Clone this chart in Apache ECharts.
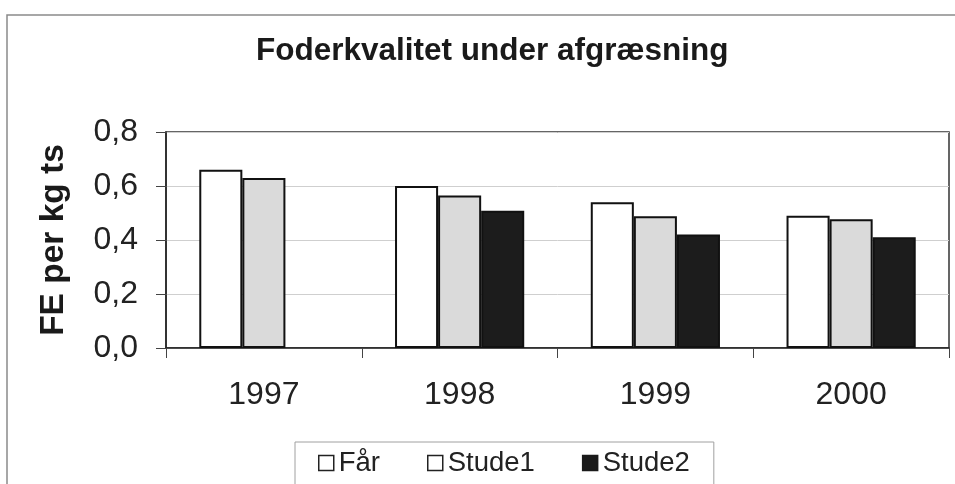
<!DOCTYPE html>
<html>
<head>
    <meta charset="utf-8">
    <title>Foderkvalitet</title>
    <script src="https://cdn.jsdelivr.net/npm/echarts@6/dist/echarts.min.js"></script>
    <style>
        html, body { margin: 0; padding: 0; background: #fff; }
    </style>
</head>
<body>
    <div id="main" style="width: 955px;height:484px;"></div>

    <script type="text/javascript">
        // data
        var years = ['1997', '1998', '1999', '2000'];
        var far = [0.66, 0.60, 0.54, 0.49];
        var stude1 = [0.63, 0.565, 0.488, 0.477];
        var stude2 = [null, 0.508, 0.42, 0.41];
        var yTicks = [0, 0.2, 0.4, 0.6, 0.8];

        var myChart = echarts.init(document.getElementById('main'));

        var font = 'Liberation Sans, Arial, sans-serif';
        var barBorder = { borderColor: '#111', borderWidth: 2 };

        option = {
            animation: false,
            textStyle: { fontFamily: font },
            title: {
                text: 'Foderkvalitet under afgræsning',
                left: 251,
                top: 30,
                textStyle: { fontSize: 31.5, fontWeight: 'bold', color: '#1a1a1a', fontFamily: font }
            },
            graphic: [{
                type: 'rect',
                shape: { x: 7, y: 15, width: 980, height: 520 },
                style: { fill: null, stroke: '#8a8a8a', lineWidth: 1.5 },
                silent: true
            }],
            legend: {
                left: 295,
                top: 442,
                padding: [7, 24, 40, 23],
                borderColor: '#a0a0a0',
                borderWidth: 1,
                icon: 'rect',
                itemWidth: 15,
                itemHeight: 15,
                itemGap: 47,
                textStyle: { fontSize: 27.5, color: '#222', fontFamily: font },
                data: [
                    { name: 'Får', itemStyle: { color: '#fff', borderColor: '#222', borderWidth: 1.5 } },
                    { name: 'Stude1', itemStyle: { color: '#fff', borderColor: '#222', borderWidth: 1.5 } },
                    { name: 'Stude2', itemStyle: { color: '#1a1a1a', borderColor: '#1a1a1a', borderWidth: 1.5 } }
                ]
            },
            grid: {
                left: 166,
                top: 132,
                right: 6,
                bottom: 136,
                show: true,
                borderColor: '#333',
                borderWidth: 1.5
            },
            xAxis: {
                type: 'category',
                data: years,
                axisLine: { lineStyle: { color: '#222', width: 1.5 } },
                axisTick: { show: true, length: 10, lineStyle: { color: '#444' } },
                axisLabel: { fontSize: 32, color: '#222', margin: 31 }
            },
            yAxis: {
                type: 'value',
                min: yTicks[0],
                max: yTicks[yTicks.length - 1],
                interval: 0.2,
                name: 'FE per kg ts',
                nameLocation: 'middle',
                nameGap: 95,
                nameTextStyle: { fontSize: 33.5, fontWeight: 'bold', color: '#1a1a1a' },
                axisLine: { show: true, lineStyle: { color: '#222', width: 1.5 } },
                axisTick: { show: true, length: 10, lineStyle: { color: '#444' } },
                axisLabel: {
                    fontSize: 32,
                    color: '#222',
                    margin: 28,
                    formatter: function (v) { return v.toFixed(1).replace('.', ','); }
                },
                splitLine: { show: true, lineStyle: { color: '#cfcfcf', width: 1 } }
            },
            series: [
                {
                    name: 'Får',
                    type: 'bar',
                    barGap: '0%',
                    barCategoryGap: '34%',
                    itemStyle: Object.assign({ color: '#ffffff' }, barBorder),
                    data: far
                },
                {
                    name: 'Stude1',
                    type: 'bar',
                    itemStyle: Object.assign({ color: '#dadada' }, barBorder),
                    data: stude1
                },
                {
                    name: 'Stude2',
                    type: 'bar',
                    itemStyle: Object.assign({ color: '#1c1c1c' }, barBorder),
                    data: stude2
                }
            ]
        };

        myChart.setOption(option);
    </script>
</body>
</html>
